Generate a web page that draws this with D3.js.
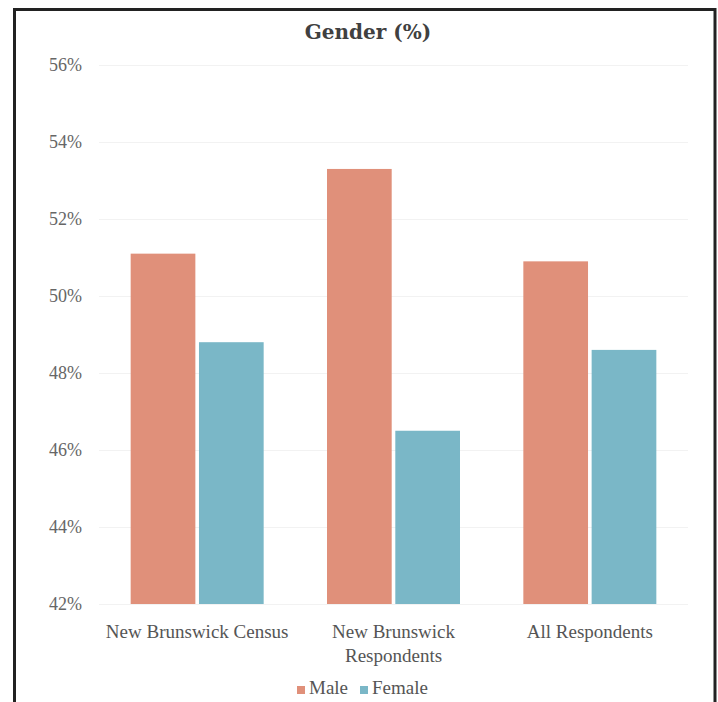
<!DOCTYPE html>
<html>
<head>
<meta charset="utf-8">
<script src="https://cdn.jsdelivr.net/npm/d3@7"></script>
<style>
  html, body { margin: 0; padding: 0; background: #fff; }
  svg { display: block; }
</style>
</head>
<body>
<svg id="chart" width="718" height="702"></svg>
<script>
// Gender split by group, in percent
const categories = ["New Brunswick Census", "New Brunswick Respondents", "All Respondents"];
const seriesNames = ["Male", "Female"];
const maleValues = [51.1, 53.3, 50.9];
const femaleValues = [48.8, 46.5, 48.6];
const yTicks = [42, 44, 46, 48, 50, 52, 54, 56];
const chartTitle = "Gender (%)";

const colors = { Male: "#e0907a", Female: "#7ab7c7" };

const rows = categories.map((c, i) => ({
  category: c,
  values: [
    { key: "Male", value: maleValues[i] },
    { key: "Female", value: femaleValues[i] }
  ]
}));

const svg = d3.select("#chart");
const W = 718, H = 702;
const plot = { left: 99, right: 688, top: 65, bottom: 604 };

svg.append("rect").attr("width", W).attr("height", H).attr("fill", "#fff");

// Frame around the chart (open at the bottom edge)
svg.append("path")
  .attr("d", `M14.5,${H} L14.5,9.5 L715,9.5 L715,${H}`)
  .attr("fill", "none")
  .attr("stroke", "#222")
  .attr("stroke-width", 3);

const y = d3.scaleLinear().domain([42, 56]).range([plot.bottom, plot.top]);
const x0 = d3.scaleBand().domain(categories).range([plot.left, plot.right])
  .paddingInner(0.3226).paddingOuter(0.1613);
const x1 = d3.scaleBand().domain(seriesNames).range([0, x0.bandwidth()]).paddingInner(0.053);

// Value axis with very light gridlines
const yAxis = svg.append("g")
  .attr("transform", `translate(${plot.left},0)`)
  .call(d3.axisLeft(y).tickValues(yTicks).tickFormat(d => d + "%")
    .tickSize(-(plot.right - plot.left)).tickPadding(17));
yAxis.select(".domain").remove();
yAxis.selectAll(".tick line").attr("stroke", "#f2f2f2").attr("stroke-width", 1);
yAxis.selectAll(".tick text")
  .attr("fill", "#666")
  .style("font-family", "'Liberation Serif', serif")
  .style("font-size", "18px");

// Bars
const groups = svg.append("g").selectAll("g")
  .data(rows).join("g")
  .attr("transform", d => `translate(${x0(d.category)},0)`);
groups.selectAll("rect")
  .data(d => d.values).join("rect")
  .attr("x", d => x1(d.key))
  .attr("width", x1.bandwidth())
  .attr("y", d => y(d.value))
  .attr("height", d => y(42) - y(d.value))
  .attr("fill", d => colors[d.key]);

// Category axis
const xAxis = svg.append("g")
  .attr("transform", `translate(0,${plot.bottom})`)
  .call(d3.axisBottom(x0).tickSize(0).tickPadding(21));
xAxis.select(".domain").remove();
xAxis.selectAll(".tick text")
  .attr("fill", "#555")
  .style("font-family", "'Liberation Serif', serif")
  .style("font-size", "19px")
  .call(wrap, x0.step() - 2);

function wrap(texts, width) {
  texts.each(function () {
    const text = d3.select(this);
    const words = text.text().split(/\s+/);
    const yAttr = text.attr("y");
    const dy = parseFloat(text.attr("dy")) || 0;
    text.text(null);
    let line = [];
    let lineNo = 0;
    let tspan = text.append("tspan").attr("x", 0).attr("y", yAttr).attr("dy", dy + "em");
    for (const w of words) {
      line.push(w);
      tspan.text(line.join(" "));
      if (tspan.node().getComputedTextLength() > width && line.length > 1) {
        line.pop();
        tspan.text(line.join(" "));
        line = [w];
        lineNo++;
        tspan = text.append("tspan").attr("x", 0).attr("y", yAttr)
          .attr("dy", (lineNo * 1.25 + dy) + "em").text(w);
      }
    }
  });
}

// Title
svg.append("text")
  .attr("x", 368).attr("y", 33)
  .attr("text-anchor", "middle").attr("dominant-baseline", "middle")
  .attr("fill", "#404040")
  .style("font-family", "'DejaVu Serif', serif")
  .style("font-weight", "bold")
  .style("font-size", "20px")
  .text(chartTitle);

// Legend
const legend = svg.append("g").attr("transform", "translate(0,690)");
const legendItems = [{ key: "Male", x: 297 }, { key: "Female", x: 360 }];
legendItems.forEach(it => {
  legend.append("rect")
    .attr("x", it.x).attr("y", -4).attr("width", 8).attr("height", 8)
    .attr("fill", colors[it.key]);
  legend.append("text")
    .attr("x", it.x + 12).attr("y", 0)
    .attr("dominant-baseline", "middle")
    .attr("fill", "#555")
    .style("font-family", "'Liberation Serif', serif")
    .style("font-size", "19px")
    .text(it.key);
});
</script>
</body>
</html>
